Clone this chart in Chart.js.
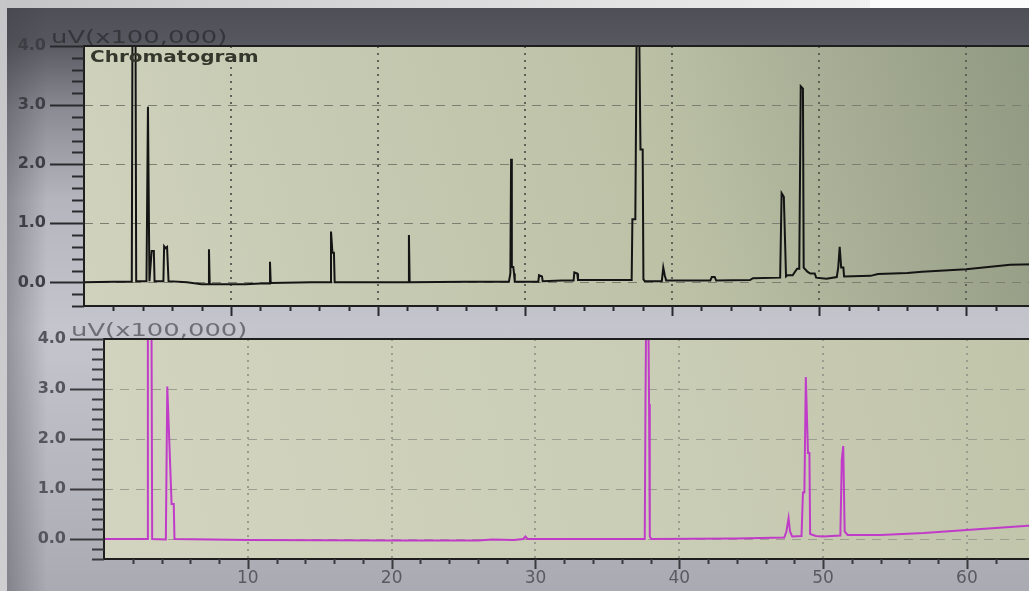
<!DOCTYPE html>
<html>
<head>
<meta charset="utf-8">
<title>Chromatogram</title>
<script src="https://cdn.jsdelivr.net/npm/chart.js@4.4.1/dist/chart.umd.min.js"></script>
<style>
    html, body { margin: 0; padding: 0; width: 1029px; height: 591px; overflow: hidden; }
    body {
        position: relative;
        background: linear-gradient(to bottom, #4d4e55 0px, #56575e 40px, #8a8b93 110px, #b4b5bd 200px, #c4c5cd 330px, #b6b7bf 470px, #a9aab2 591px);
    }
    .top-strip { position: absolute; left: 0; top: 0; width: 870px; height: 8px; background: linear-gradient(to right, #c4c4c6, #efeff0); }
    .top-strip-right { position: absolute; left: 870px; top: 0; width: 159px; height: 8px; background: #fbfbfb; }
    .left-strip { position: absolute; left: 0; top: 0; width: 7px; height: 591px; background: linear-gradient(to bottom, #c6c6c8, #cfcfd2); }
    .left-shade { position: absolute; left: 7px; top: 8px; width: 40px; height: 583px; background: linear-gradient(to right, rgba(60,60,66,0.35), rgba(60,60,66,0)); }
    canvas { position: absolute; left: 0; }
    #topChart { top: 0; }
    #bottomChart { top: 320px; }
</style>
</head>
<body>
<div class="top-strip"></div>
<div class="top-strip-right"></div>
<div class="left-strip"></div>
<div class="left-shade"></div>
<canvas id="topChart" width="1050" height="330"></canvas>
<canvas id="bottomChart" width="1050" height="271"></canvas>
<script>
// upper trace (black), time in minutes / signal in uV x 100,000
const topTime = [0, 2.0, 3.25, 3.3, 3.5, 3.55, 4.25, 4.35, 4.45, 4.6, 4.75, 4.8, 5.4, 5.45, 5.55, 5.65, 5.75, 7.0, 8.0,
    8.45, 8.5, 8.55, 11.0, 12.0, 12.6, 12.65, 12.7, 15.5, 16.75, 16.8, 16.9, 17.0, 17.05, 20.0, 22.05, 22.1, 22.15,
    26.0, 28.9, 29.0, 29.05, 29.1, 29.2, 29.25, 29.3, 30.9, 30.95, 31.15, 31.2, 32.5, 33.3, 33.35, 33.55, 33.6,
    37.25, 37.3, 37.5, 37.6, 37.75, 37.85, 38.0, 38.05, 38.15, 39.3, 39.4, 39.5, 39.6, 41.0, 42.6, 42.7, 42.9,
    43.0, 45.3, 45.5, 47.35, 47.45, 47.6, 47.75, 47.85, 48.2, 48.5, 48.65, 48.75, 48.9, 48.95, 49.2, 49.4, 49.5,
    49.7, 49.8, 50.5, 51.2, 51.3, 51.4, 51.5, 51.65, 51.7, 53.5, 54.0, 56.0, 57.0, 60.0, 61.5, 63.0, 65.5];
const topSignal = [0.00, 0.01, 0.01, 4.6, 4.6, 0.02, 0.02, 2.97, 0.02, 0.53, 0.53, 0.02, 0.02, 0.61, 0.58, 0.60, 0.02, 0.00, -0.03,
    -0.03, 0.56, -0.03, -0.03, -0.02, -0.02, 0.35, -0.01, 0.00, 0.00, 0.86, 0.50, 0.50, 0.00, 0.00, 0.00, 0.80, 0.00,
    0.01, 0.01, 0.15, 2.09, 0.26, 0.26, 0.15, 0.01, 0.01, 0.12, 0.10, 0.02, 0.03, 0.03, 0.17, 0.15, 0.04,
    0.04, 1.07, 1.07, 4.6, 4.6, 2.25, 2.25, 0.05, 0.02, 0.02, 0.25, 0.12, 0.03, 0.03, 0.03, 0.09, 0.09,
    0.03, 0.04, 0.07, 0.08, 1.51, 1.45, 0.10, 0.12, 0.12, 0.23, 0.23, 3.32, 3.28, 0.25, 0.18, 0.15, 0.15,
    0.15, 0.08, 0.06, 0.09, 0.25, 0.60, 0.25, 0.25, 0.10, 0.11, 0.14, 0.16, 0.18, 0.22, 0.26, 0.30, 0.31];

// lower trace (magenta)
const bottomTime = [0, 2.0, 3.0, 3.05, 3.3, 3.35, 4.3, 4.4, 4.7, 4.85, 4.9, 10.0, 20.0, 26.0, 27.0, 28.5, 29.15, 29.3,
    29.45, 35.0, 37.6, 37.65, 37.7, 37.85, 37.9, 37.95, 38.05, 44.0, 47.3, 47.45, 47.6, 47.7, 47.85, 48.5, 48.6,
    48.7, 48.8, 48.95, 49.05, 49.1, 49.5, 50.0, 51.2, 51.3, 51.4, 51.5, 51.7, 54.0, 57.0, 60.0, 63.0, 65.5];
const bottomSignal = [0.00, 0.00, 0.00, 4.6, 4.6, 0.00, -0.01, 3.05, 0.70, 0.70, 0.00, -0.02, -0.03, -0.03, -0.01, -0.02, 0.00, 0.05,
    0.00, 0.00, 0.00, 2.70, 4.6, 4.6, 2.70, 0.05, 0.00, 0.01, 0.03, 0.15, 0.42, 0.15, 0.05, 0.06, 0.93,
    0.93, 3.24, 1.72, 1.72, 0.10, 0.06, 0.05, 0.07, 1.58, 1.86, 0.15, 0.08, 0.08, 0.12, 0.18, 0.24, 0.29];

const timeMin = 0;
const timeMax = 65.5;
const signalMin = -0.4;
const signalMax = 4.0;

function toPoints(xs, ys) {
    return xs.map((x, i) => ({ x: x, y: ys[i] }));
}

function isWhole(v) {
    return Math.abs(v - Math.round(v)) < 1e-6;
}

// plot background, frame, tick marks and the texts around the panel
const panelPlugin = {
    id: 'panel',
    beforeDraw(chart, args, opts) {
        const ctx = chart.ctx;
        const a = chart.chartArea;
        const g = ctx.createLinearGradient(a.left, a.bottom, a.right, a.top);
        g.addColorStop(0, opts.bg[0]);
        g.addColorStop(0.6, opts.bg[1]);
        g.addColorStop(1, opts.bg[2]);
        ctx.save();
        ctx.fillStyle = g;
        ctx.fillRect(a.left, a.top, a.right - a.left, a.bottom - a.top);
        ctx.restore();
    },
    afterDraw(chart, args, opts) {
        const ctx = chart.ctx;
        const a = chart.chartArea;
        const xs = chart.scales.x;
        const ys = chart.scales.y;
        ctx.save();
        ctx.strokeStyle = '#1e1e1e';
        ctx.lineWidth = 2;
        ctx.strokeRect(a.left, a.top, a.right - a.left, a.bottom - a.top);

        ctx.lineWidth = 2;
        ctx.strokeStyle = opts.tickColor;
        ys.ticks.forEach(t => {
            const y = Math.round(ys.getPixelForValue(t.value)) + 0.5;
            const len = isWhole(t.value) ? opts.majorY : 12;
            ctx.beginPath();
            ctx.moveTo(a.left, y);
            ctx.lineTo(a.left - len, y);
            ctx.stroke();
        });
        xs.ticks.forEach(t => {
            if (t.value <= timeMin || t.value >= timeMax) return;
            const x = Math.round(xs.getPixelForValue(t.value)) + 0.5;
            const len = isWhole(t.value / 10) ? 10 : 5;
            ctx.beginPath();
            ctx.moveTo(x, a.bottom);
            ctx.lineTo(x, a.bottom + len);
            ctx.stroke();
        });

        ctx.font = '17px "DejaVu Sans"';
        ctx.textBaseline = 'alphabetic';
        ctx.fillStyle = opts.unitColor;
        ctx.translate(a.left - 33, a.top - 3);
        ctx.scale(1.52, 1);
        ctx.fillText('uV(x100,000)', 0, 0);
        ctx.restore();

        if (opts.title) {
            ctx.save();
            ctx.font = 'bold 16px "DejaVu Sans"';
            ctx.fillStyle = '#34372c';
            ctx.translate(a.left + 6, a.top + 16);
            ctx.scale(1.25, 1);
            ctx.fillText(opts.title, 0, 0);
            ctx.restore();
        }
    }
};

function makeOptions(cfg) {
    return {
        responsive: false,
        animation: false,
        events: [],
        layout: { padding: cfg.padding },
        plugins: {
            legend: { display: false },
            tooltip: { enabled: false },
            panel: cfg.panel
        },
        scales: {
            x: {
                type: 'linear',
                min: timeMin,
                max: timeMax,
                afterFit: s => { s.height = cfg.xHeight; },
                border: { display: false, dash: [2, 5] },
                grid: {
                    drawTicks: true,
                    tickLength: 9,
                    tickColor: 'transparent',
                    lineWidth: 2,
                    color: c => (c.tick && isWhole(c.tick.value / 10) && c.tick.value > 0) ? cfg.vGrid : 'transparent'
                },
                ticks: {
                    display: cfg.showX,
                    stepSize: 2,
                    autoSkip: false,
                    maxRotation: 0,
                    padding: 0,
                    color: '#5a5b62',
                    font: { family: 'DejaVu Sans', size: 17 },
                    callback: v => (isWhole(v / 10) && v > 0) ? String(v) : ''
                }
            },
            y: {
                min: signalMin,
                max: signalMax,
                afterFit: s => { s.width = cfg.yWidth; },
                border: { display: false, dash: [9, 7] },
                grid: {
                    drawTicks: true,
                    tickLength: 37,
                    tickColor: 'transparent',
                    lineWidth: 1,
                    color: c => (c.tick && isWhole(c.tick.value) && c.tick.value > -0.1 && c.tick.value < 3.9) ? cfg.hGrid : 'transparent'
                },
                ticks: {
                    stepSize: 0.2,
                    autoSkip: false,
                    padding: 1,
                    color: cfg.tickText,
                    font: { family: 'DejaVu Sans', size: 16, weight: 'bold' },
                    callback: v => isWhole(v) && v >= 0 ? v.toFixed(1) : ''
                }
            }
        }
    };
}

new Chart(document.getElementById('topChart').getContext('2d'), {
    type: 'line',
    data: {
        datasets: [{
            label: 'Chromatogram',
            data: toPoints(topTime, topSignal),
            borderColor: '#141414',
            borderWidth: 2,
            pointRadius: 0,
            tension: 0
        }]
    },
    options: makeOptions({
        padding: { top: 46, left: 0, right: 3, bottom: 4 },
        xHeight: 20,
        yWidth: 84,
        showX: false,
        vGrid: '#5f6258',
        hGrid: '#7b7e70',
        tickText: '#3e3f44',
        panel: {
            bg: ['#d0d2bd', '#bcc1a6', '#8e9780'],
            tickColor: '#2a2a2e',
            unitColor: '#35363b',
            majorY: 34,
            title: 'Chromatogram'
        }
    }),
    plugins: [panelPlugin]
});

new Chart(document.getElementById('bottomChart').getContext('2d'), {
    type: 'line',
    data: {
        datasets: [{
            label: 'Detector 2',
            data: toPoints(bottomTime, bottomSignal),
            borderColor: '#c03cc8',
            borderWidth: 2,
            pointRadius: 0,
            tension: 0
        }]
    },
    options: makeOptions({
        padding: { top: 19, left: 0, right: 4, bottom: 0 },
        xHeight: 32,
        yWidth: 104,
        showX: true,
        vGrid: '#9a9c8e',
        hGrid: '#9c9e90',
        tickText: '#55565c',
        panel: {
            bg: ['#d2d4bf', '#cacdb5', '#c0c4a9'],
            tickColor: '#3a3a3e',
            unitColor: '#6e6f76',
            majorY: 34,
            title: ''
        }
    }),
    plugins: [panelPlugin]
});
</script>
</body>
</html>
